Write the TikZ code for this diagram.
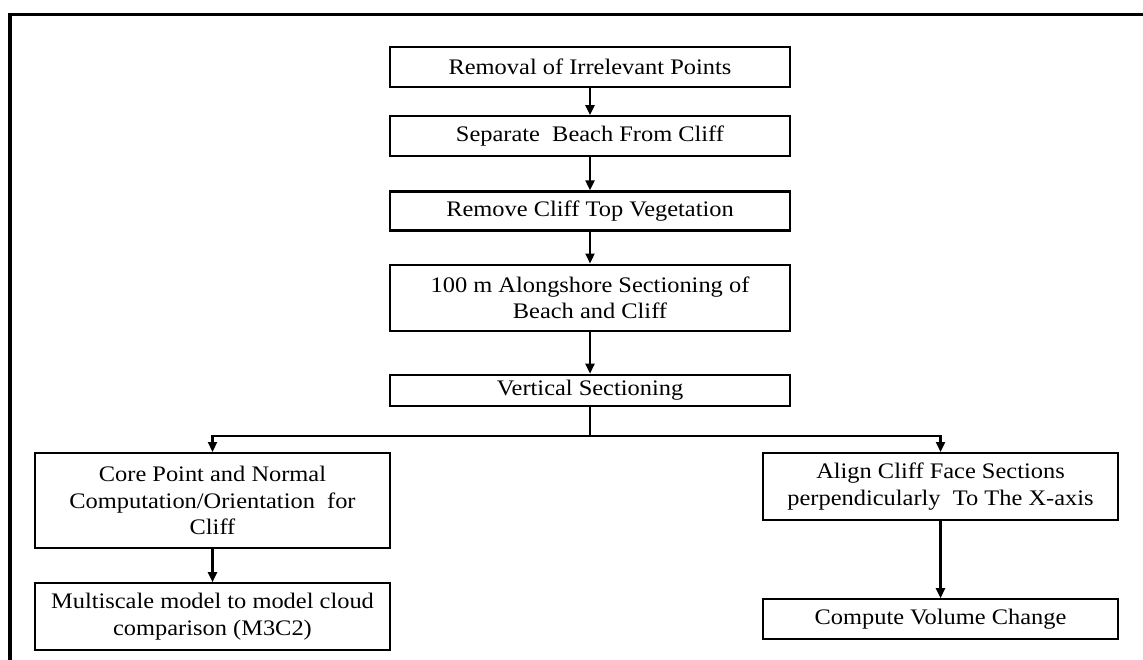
\documentclass[tikz,border=0pt]{standalone}
\usepackage{fontspec}
\setmainfont{Liberation Serif}[FakeStretch=1.1]
\usepackage{tikz}
\usetikzlibrary{positioning,arrows.meta}

\begin{document}
\begin{tikzpicture}[
  box/.style={draw,line width=1.1pt,minimum width=200pt,align=center,inner sep=2pt,
    font=\fontsize{11.1}{13.3}\selectfont},
  side/.style={box,minimum width=177.5pt},
  flow/.style={-{Triangle[length=5pt,width=4.5pt]},line width=1.1pt}]
  \useasboundingbox (0,0) rectangle (571.5pt,-329.5pt);
  % outer frame, only its top and left edge show
  \draw[line width=1.7pt] (5pt,-340pt) -- (5pt,-7.25pt) -- (580pt,-7.25pt);

  \node[box,minimum height=20pt] (removal) at (295pt,-33.5pt) {Removal of Irrelevant Points};
  \node[box,minimum height=20pt,below=13.5pt of removal] (separate) {Separate~ Beach From Cliff};
  \node[box,minimum height=19.5pt,below=16.5pt of separate] (vegetation) {Remove Cliff Top Vegetation};
  \node[box,minimum height=33pt,below=16pt of vegetation] (alongshore)
    {100 m Alongshore Sectioning of\\Beach and Cliff};
  \node[box,minimum height=15.5pt,below=21pt of alongshore] (vertical) {Vertical Sectioning};

  \node[side,minimum height=47.5pt,anchor=north] (core) at (106.25pt,-226pt)
    {Core Point and Normal\\Computation/Orientation~ for\\Cliff};
  \node[side,minimum height=33.5pt,below=16.5pt of core] (mscale)
    {Multiscale model to model cloud\\comparison (M3C2)};
  \node[side,minimum height=33.5pt,anchor=north] (align) at (470.25pt,-226pt)
    {Align Cliff Face Sections\\perpendicularly~ To The X-axis};
  \node[side,minimum height=20pt,below=38.5pt of align] (volume) {Compute Volume Change};

  \foreach \a/\b in {removal/separate,separate/vegetation,vegetation/alongshore,
    alongshore/vertical,core/mscale,align/volume}
    \draw[flow] (\a) -- (\b);

  % branch below vertical sectioning
  \coordinate[below=14.5pt of vertical] (split);
  \draw[line width=1.1pt] (vertical) -- (split);
  \draw[flow] (split) -| (core);
  \draw[flow] (split) -| (align);
\end{tikzpicture}
\end{document}
